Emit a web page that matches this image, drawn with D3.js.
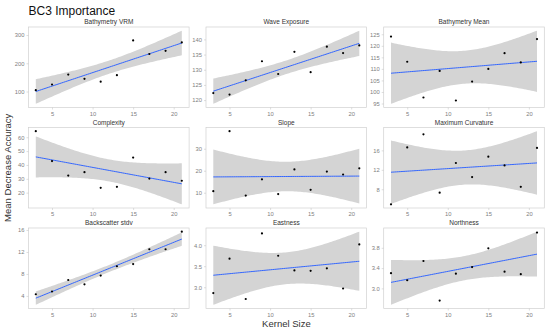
<!DOCTYPE html>
<html>
<head>
<meta charset="utf-8">
<script src="https://cdn.jsdelivr.net/npm/d3@7/dist/d3.min.js"></script>
<style>
  html, body { margin: 0; padding: 0; background: #fff; }
  svg { display: block; font-family: "Liberation Sans", Arial, Helvetica, sans-serif; }
</style>
</head>
<body>
<svg id="chart" width="550" height="331"></svg>
<script>
// ---------- data ----------
const kernelSizes = [3, 5, 7, 9, 11, 13, 15, 17, 19, 21];
const panelTitles = ["Bathymetry VRM", "Wave Exposure", "Bathymetry Mean",
                     "Complexity", "Slope", "Maximum Curvature",
                     "Backscatter stdv", "Eastness", "Northness"];
const bathymetryVRM   = [105, 125, 160, 145, 135, 158, 281, 233, 244, 274];
const waveExposure    = [122.3, 121.8, 126.5, 132.8, 128.6, 135.9, 129.2, 137.6, 135.5, 138.0];
const bathymetryMean  = [124.0, 113.1, 97.6, 109.1, 96.3, 104.5, 110.0, 116.8, 112.8, 122.9];
const complexity      = [64.4, 42.8, 32.3, 34.8, 23.5, 24.2, 45.3, 30.2, 34.8, 28.6];
const slope           = [10.7, 38.0, 8.7, 16.1, 9.4, 20.6, 11.3, 19.6, 18.3, 21.1];
const maxCurvature    = [4.9, 16.6, 19.3, 7.3, 13.4, 10.5, 14.7, 12.9, 8.5, 16.5];
const backscatterStdv = [4.3, 4.8, 6.9, 6.1, 7.7, 9.4, 9.8, 12.5, 12.5, 15.7];
const eastness        = [2.86, 3.68, 2.72, 4.28, 3.75, 3.40, 3.39, 3.45, 2.97, 4.02];
const northness       = [3.30, 3.16, 3.54, 2.76, 3.29, 3.42, 3.79, 3.33, 3.28, 4.10];

const xTicks = [5, 10, 15, 20];
const yTickSets = [
  [100, 200, 300],
  [120, 125, 130, 135, 140],
  [95, 100, 105, 110, 115, 120, 125],
  [20, 30, 40, 50, 60],
  [10, 20, 30],
  [8, 12, 16],
  [4, 8, 12, 16],
  [3.0, 3.5, 4.0],
  [3.0, 3.4, 3.8]
];
const yTickFormats = ["d", "d", "d", "d", "d", "d", "d", ".1f", ".1f"];
const panelSeries = [bathymetryVRM, waveExposure, bathymetryMean,
                     complexity, slope, maxCurvature,
                     backscatterStdv, eastness, northness];

const chartTitle = "BC3 Importance";
const xTitle = "Kernel Size";
const yTitle = "Mean Decrease Accuracy";

// ---------- layout ----------
const colLeft = [28.5, 206, 383.7];
const rowTop = [27, 127.5, 228];
const panelW = 160.6, panelH = 80.5;
const T975 = 2.306; // t quantile, df = 8

const svg = d3.select("#chart");

// linear fit + 95% confidence band (as geom_smooth(method = "lm"))
function lmBand(xs, ys) {
  const n = xs.length;
  const mx = d3.mean(xs), my = d3.mean(ys);
  const sxx = d3.sum(xs, x => (x - mx) ** 2);
  const sxy = d3.sum(xs.map((x, i) => (x - mx) * (ys[i] - my)));
  const b = sxy / sxx, a = my - b * mx;
  const rss = d3.sum(xs.map((x, i) => (ys[i] - (a + b * x)) ** 2));
  const s = Math.sqrt(rss / (n - 2));
  const [x0, x1] = d3.extent(xs);
  return d3.range(80).map(i => {
    const x = x0 + (x1 - x0) * i / 79;
    const yh = a + b * x;
    const se = s * Math.sqrt(1 / n + (x - mx) ** 2 / sxx);
    return { x, y: yh, lo: yh - T975 * se, hi: yh + T975 * se };
  });
}

function pad(ext) {
  const d = (ext[1] - ext[0]) * 0.05;
  return [ext[0] - d, ext[1] + d];
}

panelTitles.forEach((title, k) => {
  const col = k % 3, row = Math.floor(k / 3);
  const ys = panelSeries[k];
  const band = lmBand(kernelSizes, ys);
  const left = colLeft[col], top = rowTop[row];

  const x = d3.scaleLinear().domain(pad(d3.extent(kernelSizes))).range([0, panelW]);
  const yExt = [Math.min(d3.min(ys), d3.min(band, d => d.lo)),
                Math.max(d3.max(ys), d3.max(band, d => d.hi))];
  const y = d3.scaleLinear().domain(pad(yExt)).range([panelH, 0]);

  const g = svg.append("g").attr("transform", `translate(${left},${top})`);

  g.append("rect").attr("width", panelW).attr("height", panelH).attr("fill", "#fff");

  g.append("path")
    .datum(band)
    .attr("fill", "#d4d4d4")
    .attr("d", d3.area().x(d => x(d.x)).y0(d => y(d.lo)).y1(d => y(d.hi)));

  g.append("path")
    .datum(band)
    .attr("fill", "none")
    .attr("stroke", "#3366FF")
    .attr("stroke-width", 1)
    .attr("d", d3.line().x(d => x(d.x)).y(d => y(d.y)));

  g.selectAll("circle.pt")
    .data(kernelSizes.map((kx, i) => [kx, ys[i]]))
    .join("circle")
    .attr("class", "pt")
    .attr("cx", d => x(d[0]))
    .attr("cy", d => y(d[1]))
    .attr("r", 1.1)
    .attr("fill", "#000");

  g.append("rect").attr("width", panelW).attr("height", panelH)
    .attr("fill", "none").attr("stroke", "#d0d0d0").attr("stroke-width", 0.7);

  // axes
  const yAxis = g.append("g").call(
    d3.axisLeft(y).tickValues(yTickSets[k]).tickFormat(d3.format(yTickFormats[k]))
      .tickSize(2).tickPadding(2));
  const xAxis = g.append("g").attr("transform", `translate(0,${panelH})`).call(
    d3.axisBottom(x).tickValues(xTicks).tickFormat(d3.format("d"))
      .tickSize(2).tickPadding(2));
  [yAxis, xAxis].forEach(ax => {
    ax.select(".domain").remove();
    ax.selectAll(".tick line").attr("stroke", "#c8c8c8").attr("stroke-width", 0.6);
    ax.selectAll(".tick text").attr("fill", "#808080")
      .style("font-size", "5.8px").style("font-family", "Liberation Sans, Arial, sans-serif");
  });

  // strip title
  g.append("text")
    .attr("x", panelW / 2).attr("y", -2.6)
    .attr("text-anchor", "middle")
    .attr("fill", "#333")
    .style("font-size", "6.5px")
    .text(title);
});

// overall titles
svg.append("text")
  .attr("x", 28.5).attr("y", 14.5)
  .attr("fill", "#111")
  .style("font-size", "12px")
  .text(chartTitle);

svg.append("text")
  .attr("x", (colLeft[0] + colLeft[2] + panelW) / 2).attr("y", 327)
  .attr("text-anchor", "middle")
  .attr("fill", "#333")
  .style("font-size", "9.5px")
  .text(xTitle);

svg.append("text")
  .attr("transform", `translate(11,${(rowTop[0] + rowTop[2] + panelH) / 2}) rotate(-90)`)
  .attr("text-anchor", "middle")
  .attr("fill", "#333")
  .style("font-size", "9.5px")
  .text(yTitle);
</script>
</body>
</html>
